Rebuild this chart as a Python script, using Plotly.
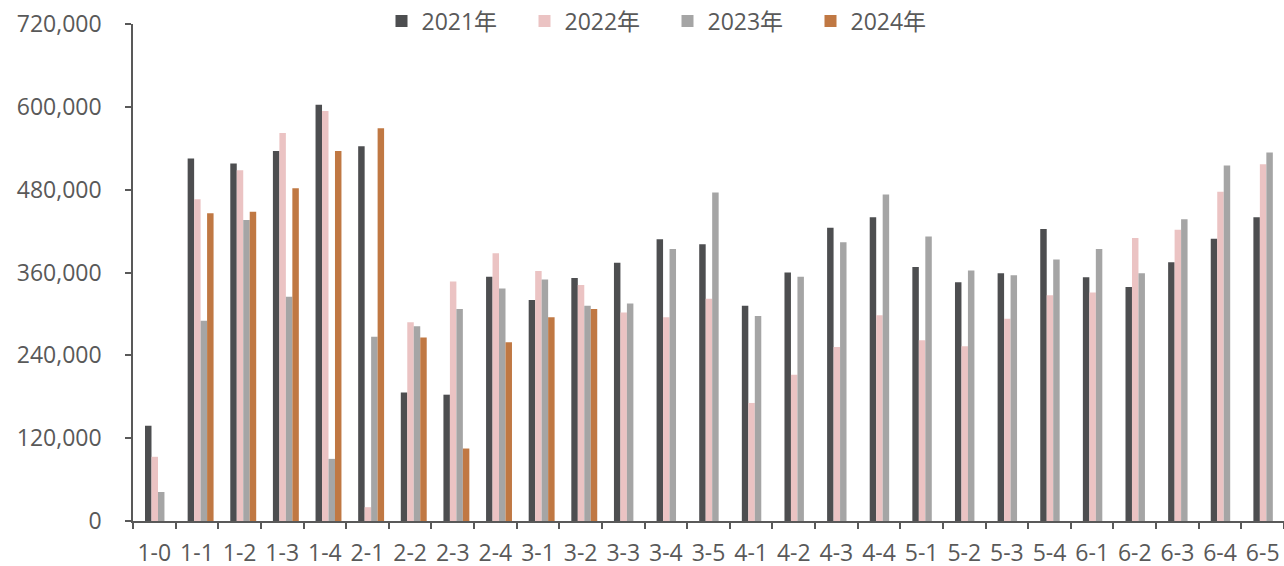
import plotly.graph_objects as go

categories = ["1-0", "1-1", "1-2", "1-3", "1-4", "2-1", "2-2", "2-3", "2-4",
              "3-1", "3-2", "3-3", "3-4", "3-5", "4-1", "4-2", "4-3", "4-4",
              "5-1", "5-2", "5-3", "5-4", "6-1", "6-2", "6-3", "6-4", "6-5"]

s2021 = [138000, 525000, 518000, 536000, 603000, 543000, 186000, 183000, 354000,
         320000, 352000, 374000, 408000, 401000, 312000, 360000, 425000, 440000,
         368000, 346000, 359000, 423000, 353000, 339000, 375000, 409000, 440000]
s2022 = [93000, 466000, 508000, 562000, 594000, 20000, 288000, 347000, 388000,
         362000, 342000, 302000, 295000, 322000, 171000, 212000, 252000, 298000,
         262000, 253000, 293000, 327000, 331000, 410000, 422000, 477000, 517000]
s2023 = [42000, 290000, 436000, 325000, 90000, 267000, 282000, 307000, 337000,
         350000, 312000, 315000, 394000, 476000, 297000, 354000, 404000, 473000,
         412000, 363000, 356000, 379000, 394000, 359000, 437000, 515000, 534000]
s2024 = [None, 446000, 448000, 482000, 536000, 569000, 266000, 105000, 259000,
         295000, 307000, None, None, None, None, None, None, None,
         None, None, None, None, None, None, None, None, None]

series = [("2021年", s2021, "#4D4E50"),
          ("2022年", s2022, "#EBC3C3"),
          ("2023年", s2023, "#A5A5A5"),
          ("2024年", s2024, "#C07843")]

bar_w = 0.152
start = -0.218

fig = go.Figure()
for i, (name, vals, color) in enumerate(series):
    fig.add_trace(go.Bar(
        name=name, x=categories, y=vals,
        marker=dict(color=color, line=dict(width=0)),
        width=bar_w, offset=start + i * bar_w,
    ))

font_family = "Open Sans, Noto Sans CJK SC, sans-serif"
text_color = "#595959"
fs = 23

fig.update_layout(
    width=1284, height=566,
    margin=dict(l=133, r=0, t=24, b=45, autoexpand=False),
    paper_bgcolor="white", plot_bgcolor="white",
    barmode="overlay",
    font=dict(family=font_family, size=fs, color=text_color),
    showlegend=True,
    legend=dict(orientation="h", xref="container", x=(403.5 - 22) / 1284, xanchor="left",
                yref="container", y=1 - 21 / 566, yanchor="middle",
                font=dict(size=fs, color=text_color), entrywidth=98,
                itemwidth=30, bgcolor="rgba(0,0,0,0)"),
    xaxis=dict(
        type="category", showline=True, linecolor="#595959", linewidth=1.5,
        ticks="outside", tickson="boundaries", ticklen=6, tickcolor="#595959",
        tickwidth=1.5, showgrid=False, tickfont=dict(size=fs, color=text_color),
        range=[-0.5, len(categories) - 0.5], automargin=False, tickangle=0,
        ticklabelstandoff=11,
    ),
    yaxis=dict(
        range=[0, 720000], dtick=120000, tickformat=",",
        showline=True, linecolor="#595959", linewidth=1.5,
        ticks="outside", ticklen=6, tickcolor="#595959", tickwidth=1.5,
        showgrid=False, zeroline=False, tickfont=dict(size=fs, color=text_color),
        ticklabelstandoff=19, automargin=False,
    ),
)

fig.write_html("out.html", config={"displayModeBar": False},
               post_script="document.body.style.margin='0';")
